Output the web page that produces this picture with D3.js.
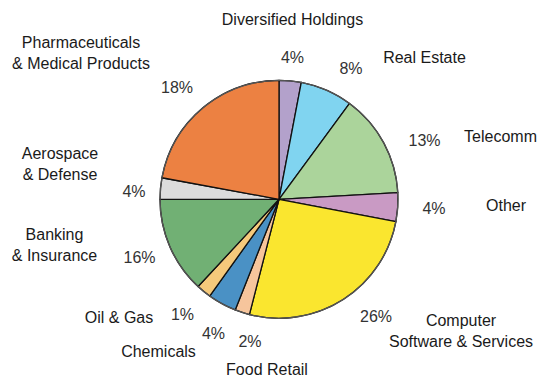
<!DOCTYPE html>
<html>
<head>
<meta charset="utf-8">
<script src="https://cdn.jsdelivr.net/npm/d3@7/dist/d3.min.js"></script>
<style>
  html, body { margin: 0; padding: 0; background: #fff; }
  svg { display: block; }
  text { font-family: "Liberation Sans", Arial, sans-serif; }
</style>
</head>
<body>
<svg id="chart" width="538" height="377"></svg>
<script>
// ---- Data ----
const categories = [
  ["Diversified Holdings"],
  ["Real Estate"],
  ["Telecomm"],
  ["Other"],
  ["Computer", "Software & Services"],
  ["Food Retail"],
  ["Chemicals"],
  ["Oil & Gas"],
  ["Banking", "& Insurance"],
  ["Aerospace", "& Defense"],
  ["Pharmaceuticals", "& Medical Products"]
];
// slice sizes as drawn in the picture (percent)
const values = [3.0, 7.1, 14.0, 3.9, 26.0, 2.0, 3.9, 2.0, 13.1, 2.9, 22.1];
// percentage labels as printed
const pctLabels = ["4%", "8%", "13%", "4%", "26%", "2%", "4%", "1%", "16%", "4%", "18%"];
const colors = ["#b3a1cb", "#80d4f0", "#abd49b", "#c99ac4", "#fae62f", "#f6c59c",
                "#4a91c5", "#f5c97b", "#71b074", "#dcdcdc", "#ec8142"];

// ---- Layout (label anchors: center x, baseline y of first line) ----
const namePos = [[292.5, 25], [424.5, 62.5], [500.5, 142], [506, 211], [461, 326],
                 [267, 374.5], [158.5, 356.5], [119, 322.5], [54.5, 240], [60, 158.5], [81, 48]];
const pctPos  = [[292.5, 63], [351, 74], [424.5, 145.5], [434, 214], [376, 322],
                 [250, 346.5], [213.5, 339], [182.5, 320], [139.5, 263], [134, 196.5], [177, 92.5]];
const lineGap = 21;
const cx = 279, cy = 199.3, R = 119;
const fontSize = 16;

const svg = d3.select("#chart");
const g = svg.append("g").attr("transform", `translate(${cx},${cy})`);

const pie = d3.pie().sort(null).value(d => d).startAngle(0).endAngle(2 * Math.PI);
const arcs = pie(values);
const arc = d3.arc().innerRadius(0).outerRadius(R);

g.selectAll("path.slice")
  .data(arcs)
  .enter().append("path")
  .attr("class", "slice")
  .attr("d", arc)
  .attr("fill", (d, i) => colors[i])
  .attr("stroke", "#111")
  .attr("stroke-width", 1.3)
  .attr("stroke-linejoin", "round");

g.append("circle").attr("r", R).attr("fill", "none")
  .attr("stroke", "#555").attr("stroke-width", 1.3);

// percentage labels
svg.selectAll("text.pct")
  .data(pctLabels)
  .enter().append("text")
  .attr("class", "pct")
  .attr("x", (d, i) => pctPos[i][0])
  .attr("y", (d, i) => pctPos[i][1])
  .attr("text-anchor", "middle")
  .attr("font-size", fontSize)
  .attr("fill", "#333")
  .text(d => d);

// category labels
const names = svg.selectAll("text.name")
  .data(categories)
  .enter().append("text")
  .attr("class", "name")
  .attr("x", (d, i) => namePos[i][0])
  .attr("y", (d, i) => namePos[i][1])
  .attr("text-anchor", "middle")
  .attr("font-size", fontSize)
  .attr("fill", "#1a1a1a");

names.each(function(lines, i) {
  const t = d3.select(this);
  lines.forEach((ln, k) => {
    t.append("tspan")
      .attr("x", namePos[i][0])
      .attr("y", namePos[i][1] + k * lineGap)
      .text(ln);
  });
});
</script>
</body>
</html>
